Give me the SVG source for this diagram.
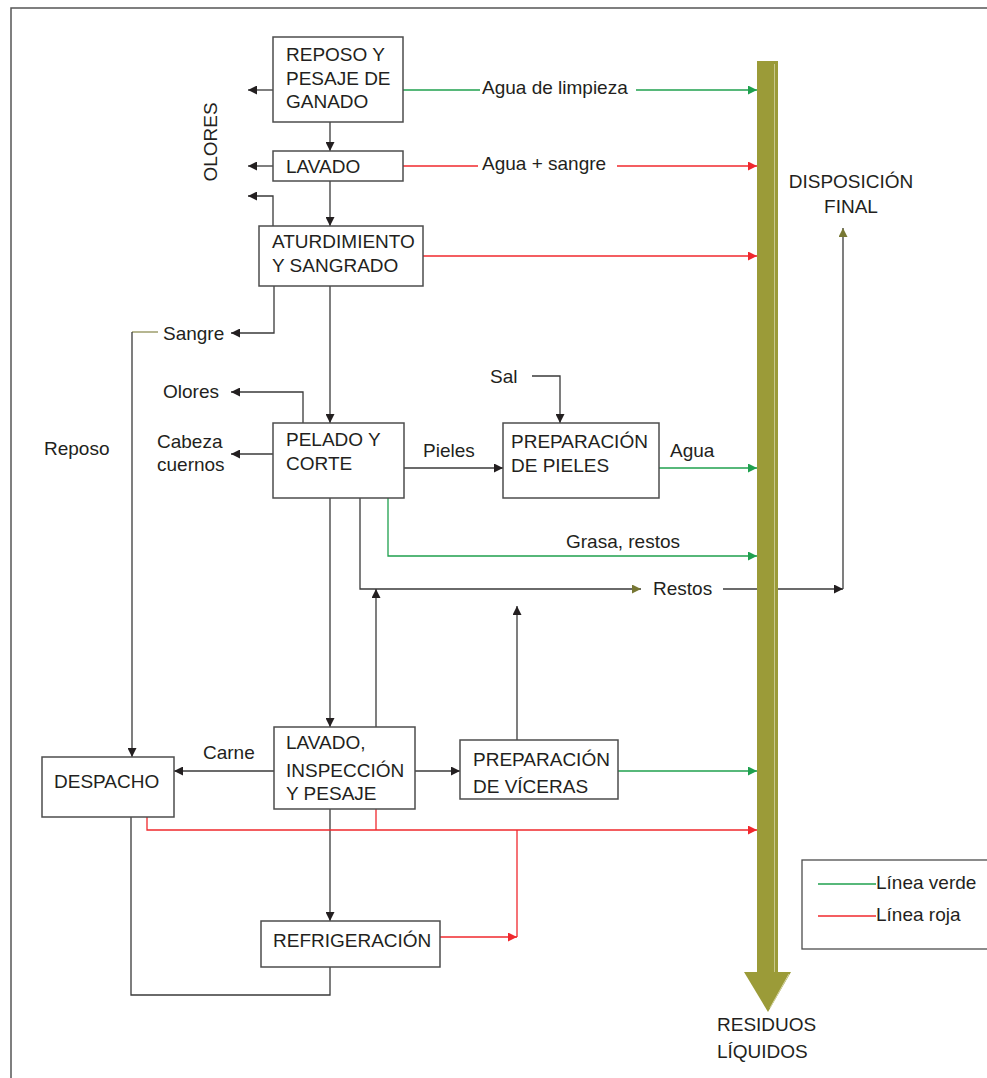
<svg xmlns="http://www.w3.org/2000/svg" width="987" height="1078" viewBox="0 0 987 1078">
  <style>
    text { font-family: "Liberation Sans", Arial, sans-serif; font-size: 19px; fill: #231f20; }
    .box { fill: #ffffff; stroke: #4d4d4d; stroke-width: 1.5; }
    .ln { fill: none; stroke: #3a3a3a; stroke-width: 1.3; }
    .gr { fill: none; stroke: #1fa04e; stroke-width: 1.3; }
    .rd { fill: none; stroke: #f0282d; stroke-width: 1.3; }
    .ol { fill: none; stroke: #8e8e55; stroke-width: 1.3; }
    .frame { fill: none; stroke: #555555; stroke-width: 1.5; }
  </style>
  <defs>
    <marker id="aBlk" viewBox="0 0 10 10" refX="10" refY="5" markerWidth="9" markerHeight="9" markerUnits="userSpaceOnUse" orient="auto">
      <path d="M0,0 L10,5 L0,10 z" fill="#231f20"/>
    </marker>
    <marker id="aGrn" viewBox="0 0 10 10" refX="10" refY="5" markerWidth="9" markerHeight="9" markerUnits="userSpaceOnUse" orient="auto">
      <path d="M0,0 L10,5 L0,10 z" fill="#1fa04e"/>
    </marker>
    <marker id="aRed" viewBox="0 0 10 10" refX="10" refY="5" markerWidth="9" markerHeight="9" markerUnits="userSpaceOnUse" orient="auto">
      <path d="M0,0 L10,5 L0,10 z" fill="#f0282d"/>
    </marker>
    <marker id="aOl" viewBox="0 0 10 10" refX="10" refY="5" markerWidth="9" markerHeight="9" markerUnits="userSpaceOnUse" orient="auto">
      <path d="M0,0 L10,5 L0,10 z" fill="#777733"/>
    </marker>
  </defs>

  <!-- page frame -->
  <path class="frame" d="M11,1078 V8 H987"/>

  <!-- connectors -->
  <g id="connectors">
    <!-- odours from the first three stages -->
    <path class="ln" d="M273,90 H248" marker-end="url(#aBlk)"/>
    <path class="ln" d="M273,166 H248" marker-end="url(#aBlk)"/>
    <path class="ln" d="M273,226 V196 H248" marker-end="url(#aBlk)"/>
    <!-- main flow downwards -->
    <path class="ln" d="M330,122 V151" marker-end="url(#aBlk)"/>
    <path class="ln" d="M330,181 V226" marker-end="url(#aBlk)"/>
    <path class="ln" d="M330,286 V423" marker-end="url(#aBlk)"/>
    <path class="ln" d="M330,498 V727" marker-end="url(#aBlk)"/>
    <path class="ln" d="M330,809 V921" marker-end="url(#aBlk)"/>
    <!-- blood -->
    <path class="ln" d="M274,286 V333 H231" marker-end="url(#aBlk)"/>
    <path class="ol" d="M158,332 H132"/>
    <path class="ln" d="M132,332 V757" marker-end="url(#aBlk)"/>
    <!-- odours / heads from pelado -->
    <path class="ln" d="M303,423 V392 H231" marker-end="url(#aBlk)"/>
    <path class="ln" d="M273,454 H231" marker-end="url(#aBlk)"/>
    <!-- hides -->
    <path class="ln" d="M404,468 H503" marker-end="url(#aBlk)"/>
    <path class="ln" d="M532,376 H560 V423" marker-end="url(#aBlk)"/>
    <!-- remains -->
    <path class="ln" d="M360,498 V589 H641" marker-end="url(#aOl)"/>
    <path class="ln" d="M723,589 H843" marker-end="url(#aBlk)"/>
    <path class="ln" d="M843,589 V228" marker-end="url(#aOl)"/>
    <path class="ln" d="M376,727 V589" marker-end="url(#aBlk)"/>
    <path class="ln" d="M517,740 V606" marker-end="url(#aBlk)"/>
    <!-- meat / viscera -->
    <path class="ln" d="M274,771 H174" marker-end="url(#aBlk)"/>
    <path class="ln" d="M415,771 H460" marker-end="url(#aBlk)"/>
    <!-- return loop from cold storage -->
    <path class="ln" d="M330,967 V995 H131 V817"/>

    <!-- green water lines -->
    <path class="gr" d="M403,90 H480"/>
    <path class="gr" d="M636,90 H757" marker-end="url(#aGrn)"/>
    <path class="gr" d="M659,468 H757" marker-end="url(#aGrn)"/>
    <path class="gr" d="M388,498 V556 H757" marker-end="url(#aGrn)"/>
    <path class="gr" d="M618,771 H757" marker-end="url(#aGrn)"/>

    <!-- red water lines -->
    <path class="rd" d="M403,166 H478"/>
    <path class="rd" d="M617,166 H757" marker-end="url(#aRed)"/>
    <path class="rd" d="M423,256 H757" marker-end="url(#aRed)"/>
    <path class="rd" d="M147,817 V830 H757" marker-end="url(#aRed)"/>
    <path class="rd" d="M376,809 V830"/>
    <path class="rd" d="M440,937 H517" marker-end="url(#aRed)"/>
    <path class="rd" d="M517,830 V937"/>
  </g>

  <!-- liquid waste collector -->
  <g id="collector">
    <rect x="757" y="61" width="21" height="912" fill="#9b9b38"/>
    <line x1="774.5" y1="64" x2="774.5" y2="972" stroke="#c9c98c" stroke-width="1"/>
    <path d="M744,972 L791,972 L768,1012 z" fill="#9b9b38"/>
    <line x1="789" y1="974" x2="770" y2="1008" stroke="#d6d6a6" stroke-width="1"/>
  </g>

  <!-- process nodes -->
  <g id="reposo">
    <rect class="box" x="273" y="37" width="130" height="85"/>
    <text x="286" y="61">REPOSO Y</text>
    <text x="286" y="85">PESAJE DE</text>
    <text x="286" y="108">GANADO</text>
  </g>
  <g id="lavado">
    <rect class="box" x="273" y="151" width="130" height="30"/>
    <text x="286" y="173">LAVADO</text>
  </g>
  <g id="aturdimiento">
    <rect class="box" x="259" y="226" width="164" height="60"/>
    <text x="272" y="248">ATURDIMIENTO</text>
    <text x="272" y="272">Y SANGRADO</text>
  </g>
  <g id="pelado">
    <rect class="box" x="273" y="423" width="131" height="75"/>
    <text x="286" y="446">PELADO Y</text>
    <text x="286" y="470">CORTE</text>
  </g>
  <g id="pieles">
    <rect class="box" x="503" y="423" width="156" height="75"/>
    <text x="511" y="448">PREPARACIÓN</text>
    <text x="511" y="472">DE PIELES</text>
  </g>
  <g id="lavado-inspeccion">
    <rect class="box" x="274" y="727" width="141" height="82"/>
    <text x="286" y="749">LAVADO,</text>
    <text x="286" y="777">INSPECCIÓN</text>
    <text x="286" y="800">Y PESAJE</text>
  </g>
  <g id="visceras">
    <rect class="box" x="460" y="740" width="158" height="59"/>
    <text x="473" y="766">PREPARACIÓN</text>
    <text x="473" y="793">DE VÍCERAS</text>
  </g>
  <g id="despacho">
    <rect class="box" x="42" y="757" width="132" height="60"/>
    <text x="54" y="788">DESPACHO</text>
  </g>
  <g id="refrigeracion">
    <rect class="box" x="261" y="921" width="179" height="46"/>
    <text x="273" y="947">REFRIGERACIÓN</text>
  </g>

  <!-- flow labels -->
  <g id="labels">
    <text transform="translate(217,142) rotate(-90)" text-anchor="middle">OLORES</text>
    <text x="482" y="94">Agua de limpieza</text>
    <text x="482" y="170">Agua + sangre</text>
    <text x="851" y="188" text-anchor="middle">DISPOSICIÓN</text>
    <text x="851" y="213" text-anchor="middle">FINAL</text>
    <text x="163" y="340">Sangre</text>
    <text x="163" y="398">Olores</text>
    <text x="157" y="448">Cabeza</text>
    <text x="157" y="471">cuernos</text>
    <text x="44" y="455">Reposo</text>
    <text x="490" y="383">Sal</text>
    <text x="423" y="457">Pieles</text>
    <text x="670" y="457">Agua</text>
    <text x="566" y="548">Grasa, restos</text>
    <text x="653" y="595">Restos</text>
    <text x="203" y="759">Carne</text>
    <text x="717" y="1031">RESIDUOS</text>
    <text x="717" y="1058">LÍQUIDOS</text>
  </g>

  <!-- legend -->
  <g id="legend">
    <rect x="802" y="860" width="190" height="89" fill="#ffffff" stroke="#4d4d4d" stroke-width="1.3"/>
    <line x1="818" y1="884" x2="876" y2="884" stroke="#1fa04e" stroke-width="1.3"/>
    <text x="876" y="889">Línea verde</text>
    <line x1="818" y1="916" x2="876" y2="916" stroke="#f0282d" stroke-width="1.3"/>
    <text x="876" y="921">Línea roja</text>
  </g>
</svg>
